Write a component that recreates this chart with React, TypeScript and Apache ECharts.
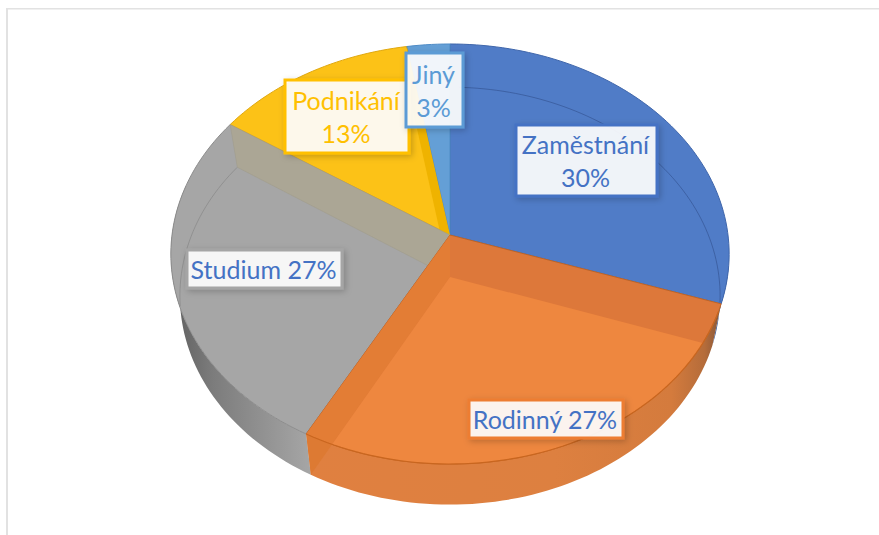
import React, { useEffect, useRef } from "react";
import * as echarts from "echarts";

const categories = ["Zaměstnání", "Rodinný", "Studium", "Podnikání", "Jiný"];
const shares = [30.2, 27.7, 26.5, 12.9, 2.7];
const percentLabels = ["30%", "27%", "27%", "13%", "3%"];

const FACE = ["#507CC7", "#DD783A", "#A6A6A6", "#FCC217", "#649FD6"];
const EDGE = ["#3F66AB", "#BF6426", "#8C8C8C", "#E0A810", "#4F8CC6"];
const LABEL_BORDER = ["#4472C4", "#ED7D31", "#A5A5A5", "#FFC000", "#5B9BD5"];
const LABEL_TEXT = ["#4472C4", "#4472C4", "#4472C4", "#FFC000", "#5B9BD5"];
const LABEL_BOX: number[][] = [
  [516, 125, 141, 71],
  [469, 400, 154, 38],
  [187, 250, 155, 38],
  [285, 80, 124, 73],
  [406, 53, 57, 74],
];
const LABEL_TWO_LINES = [true, false, false, true, true];

const K = 0.0905;
const TOP = { cx: 450, hy: 235, b: 278, a: 208.3 };
const FLOOR = { cx: 450, hy: 277, b: 269, a: 207 };
const RIM = { cx: 450, cy: 254, rx: 279, ry: 210 };

type P = number[];
const proj = (d: typeof TOP, deg: number): P => {
  const t = (deg * Math.PI) / 180;
  const u = Math.sin(t);
  const v = -Math.cos(t);
  const w = 1 - K * v;
  return [d.cx + (d.b * u) / w, d.hy + (d.a * v) / w];
};
const inRim = (p: P) =>
  ((p[0] - RIM.cx) / RIM.rx) ** 2 + ((p[1] - RIM.cy) / RIM.ry) ** 2 <= 1;
const apex: P = [FLOOR.cx, FLOOR.hy];
const hub: P = [TOP.cx, TOP.hy];
const clipped = (deg: number): P => {
  const f = proj(FLOOR, deg);
  if (inRim(f)) return f;
  let lo = 0;
  let hi = 1;
  for (let i = 0; i < 24; i++) {
    const m = (lo + hi) / 2;
    const q = [apex[0] + (f[0] - apex[0]) * m, apex[1] + (f[1] - apex[1]) * m];
    if (inRim(q)) lo = m;
    else hi = m;
  }
  return [apex[0] + (f[0] - apex[0]) * lo, apex[1] + (f[1] - apex[1]) * lo];
};
const arc = (fn: (d: number) => P, a: number, b: number): P[] => {
  const n = Math.max(2, Math.ceil(Math.abs(b - a) / 1.5));
  const out: P[] = [];
  for (let i = 0; i <= n; i++) out.push(fn(a + ((b - a) * i) / n));
  return out;
};
const topAt = (d: number) => proj(TOP, d);
const floorAt = (d: number) => proj(FLOOR, d);
const hGrad = (stops: [number, string][]) =>
  new echarts.graphic.LinearGradient(
    0,
    0,
    1,
    0,
    stops.map(([offset, color]) => ({ offset, color })),
  );
const poly = (points: P[], z2: number, style: any) => ({
  type: "polygon",
  z2,
  shape: { points },
  style,
  silent: true,
});
const line = (points: P[], z2: number, stroke: string, lineWidth = 1) => ({
  type: "polyline",
  z2,
  shape: { points },
  style: { stroke, lineWidth, fill: "none" },
  silent: true,
});

const total = shares.reduce((s, v) => s + v, 0);
const bounds: number[] = [0];
shares.forEach((v) => bounds.push(bounds[bounds.length - 1] + (v / total) * 360));

const renderSlice = (params: any, api: any) => {
  const i = params.dataIndex;
  const a = bounds[i];
  const b = a + (api.value(0) / total) * 360;
  const kids: any[] = [];
  const faceZ = [4, 10, 2, 3, 4][i];
  kids.push(
    poly([hub, ...arc(topAt, a, b)], faceZ, {
      fill: FACE[i],
      stroke: EDGE[i],
      lineWidth: 1,
    }),
  );
  if (i === 0) {
    kids.push(
      poly([...arc(topAt, 98, b), ...arc(floorAt, b, 98)], 1, { fill: "#2F5597" }),
      line(arc(floorAt, 2, 97), 5, "rgba(45,75,135,0.55)"),
    );
  }
  if (i === 1) {
    kids.push(
      poly([...arc(topAt, a, b), ...arc(floorAt, b, a)], 1, {
        fill: hGrad([
          [0, "#E08040"],
          [0.6, "#DD8040"],
          [0.88, "#D47B3D"],
          [0.96, "#B56C3A"],
          [1, "#84563A"],
        ]),
      }),
      poly([apex, ...arc(clipped, a, b)], 12, { fill: "#EE873F" }),
      poly([hub, topAt(b), clipped(b), apex], 11, { fill: "#E37D35" }),
      poly([topAt(b), floorAt(b), clipped(b)], 11, { fill: "#DD7A33" }),
      line(arc(topAt, a + 2, b), 13, "#C9661F", 1.2),
    );
  }
  if (i === 2) {
    kids.push(
      poly([...arc(topAt, a, 284), ...arc(floorAt, 284, a)], 1, {
        fill: hGrad([
          [0, "#5E5E5E"],
          [0.3, "#7C7C7C"],
          [0.7, "#949494"],
          [1, "#A6A6A6"],
        ]),
      }),
      line(arc(clipped, 262, b), 6, "rgba(130,130,130,0.6)"),
      poly([hub, topAt(b), floorAt(b), apex], 7, {
        fill: "#ABA695",
        stroke: "#9E9A8A",
        lineWidth: 0.5,
      }),
    );
  }
  if (i === 3) {
    kids.push(poly([hub, topAt(b), floorAt(b), apex], 5, { fill: "#EFB300" }));
  }
  const [x, y, w, h] = LABEL_BOX[i];
  const two = LABEL_TWO_LINES[i];
  kids.push({
    type: "rect",
    z2: 20,
    silent: true,
    shape: { x, y, width: w, height: h },
    style: {
      fill: "rgba(255,255,255,0.9)",
      stroke: LABEL_BORDER[i],
      lineWidth: 3,
      shadowBlur: 6,
      shadowColor: "rgba(0,0,0,0.22)",
      shadowOffsetX: 2,
      shadowOffsetY: 2,
    },
  });
  kids.push({
    type: "text",
    z2: 21,
    silent: true,
    style: {
      x: x + w / 2 - 1,
      y: y + h / 2,
      text: two
        ? `${categories[i]}\n${percentLabels[i]}`
        : `${categories[i]} ${percentLabels[i]}`,
      align: "center",
      verticalAlign: "middle",
      fontFamily: "Lato",
      fontSize: 25,
      lineHeight: 33,
      fill: LABEL_TEXT[i],
    },
  });
  return { type: "group", children: kids };
};

export default function App() {
  const ref = useRef<HTMLDivElement>(null);
  useEffect(() => {
    document.body.style.margin = "0";
    const chart = echarts.init(ref.current!, null, { renderer: "svg" });
    chart.setOption({
      animation: false,
      backgroundColor: "#FFFFFF",
      graphic: [
        { type: "rect", shape: { x: 6, y: 8, width: 873, height: 1.5 }, style: { fill: "#E2E2E2" } },
        { type: "rect", shape: { x: 6, y: 8, width: 2, height: 527 }, style: { fill: "#E2E2E2" } },
      ],
      series: [
        {
          type: "custom",
          coordinateSystem: "none",
          renderItem: renderSlice,
          data: shares.map((v, i) => ({ name: categories[i], value: [v] })),
        },
      ],
    });
    return () => chart.dispose();
  }, []);
  return <div ref={ref} style={{ width: 879, height: 535 }} />;
}
